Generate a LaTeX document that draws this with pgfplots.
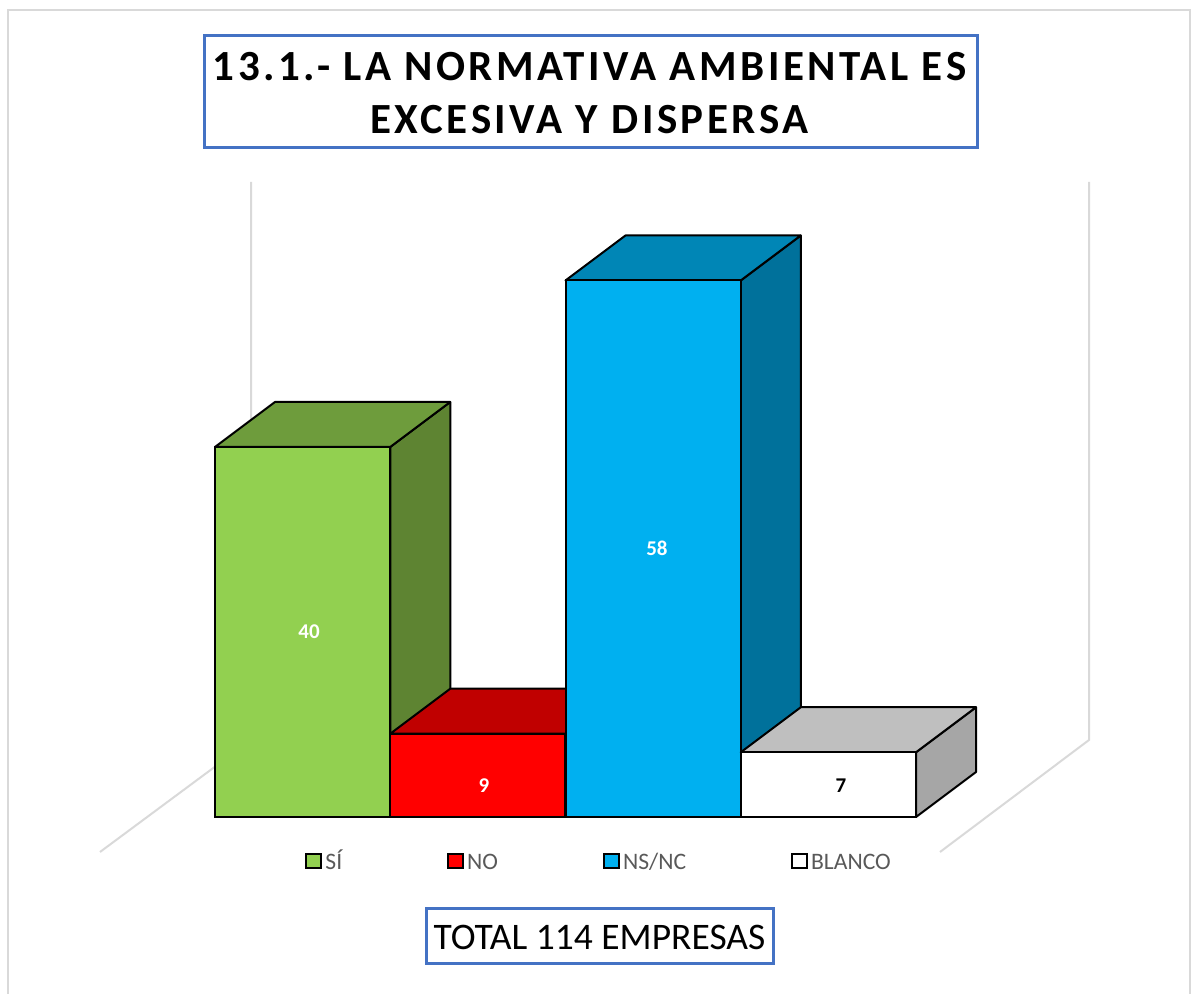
\documentclass[border=0pt]{standalone}
\usepackage{fontspec}
\setmainfont{Carlito}
\usepackage{pgfplots}
\pgfplotsset{compat=1.18}
\definecolor{verde}{HTML}{92D050}
\definecolor{verdetop}{HTML}{6E9C3C}
\definecolor{verdeside}{HTML}{5E8432}
\definecolor{rojo}{HTML}{FF0000}
\definecolor{rojotop}{HTML}{C00000}
\definecolor{azul}{HTML}{00B0F0}
\definecolor{azultop}{HTML}{0086B6}
\definecolor{azulside}{HTML}{00719B}
\definecolor{blancotop}{HTML}{BFBFBF}
\definecolor{blancoside}{HTML}{A6A6A6}
\definecolor{marco}{HTML}{D9D9D9}
\definecolor{caja}{HTML}{4472C4}
\definecolor{leyenda}{HTML}{595959}
\begin{document}
\begin{tikzpicture}
	\useasboundingbox (0,0) rectangle (596pt,497pt);
	% pixel coordinates of the reference, y downwards
	\begin{scope}[x=0.5pt,y=-0.5pt,shift={(0pt,497pt)}]
		\draw[marco,line width=1.3pt] (8,994) -- (8,10) -- (1190,10) -- (1190,994);
		\draw[marco,line width=1pt] (251,182) -- (251,740) -- (100,852);
		\draw[marco,line width=1pt] (1089,182) -- (1089,740) -- (940,852);
		\draw[caja,line width=1.5pt] (204,36) rectangle (977,148);
		\node[align=center,inner sep=0pt,font=\fontsize{21.5pt}{26.5pt}\selectfont\bfseries\addfontfeature{LetterSpace=8.2}]
			at (589.5,93) {13.1.- LA NORMATIVA AMBIENTAL ES\\EXCESIVA Y DISPERSA};
		\draw[caja,line width=1.5pt] (426,909) rectangle (773,964);
		\node[inner sep=0pt,font=\fontsize{18.75pt}{22pt}\selectfont] at (599.5,937) {TOTAL 114 EMPRESAS};
	\end{scope}
	\begin{axis}[
		at={(0pt,0pt)},anchor=south west,
		scale only axis,width=596pt,height=497pt,
		xmin=-1.7268,xmax=5.0749,ymin=-19.135,ymax=88.324,
		axis lines=none,clip=false,
		legend columns=4,
		legend image code/.code={\draw[#1,draw=black,line width=1pt] (0pt,-3.6pt) rectangle (7.5pt,3.6pt);},
		legend style={draw=none,fill=none,at={(0.2559,0.1340)},anchor=west,inner sep=0pt,
			font=\fontsize{11.8pt}{14pt}\selectfont,text=leyenda,
			nodes={inner sep=0pt,text=leyenda},
			/tikz/every odd column/.append style={column sep=1.5pt},
			/tikz/every even column/.append style={column sep=52.5pt}},
		every node near coord/.append style={anchor=center,font=\fontsize{10.5pt}{12pt}\selectfont\bfseries},
		]
		\addlegendimage{fill=verde}\addlegendentry{\strut SÍ}
		\addlegendimage{fill=rojo}\addlegendentry{\strut NO}
		\addlegendimage{fill=azul}\addlegendentry{\strut NS/NC}
		\addlegendimage{fill=white}\addlegendentry{\strut BLANCO}
		% SI = 40
		\addplot[forget plot,fill=verdeside,draw=black,line width=1pt,line join=round] coordinates {(0.5,0) (0.8424,4.865) (0.8424,44.865) (0.5,40)} -- cycle;
		\addplot[forget plot,fill=verdetop,draw=black,line width=1pt,line join=round] coordinates {(-0.5,40) (0.5,40) (0.8424,44.865) (-0.1576,44.865)} -- cycle;
		\addplot[forget plot,ybar,bar shift=0pt,bar width=87.6pt,fill=verde,draw=black,line width=1pt] coordinates {(0,40)};
		% NO = 9
		\addplot[forget plot,fill=rojotop,draw=black,line width=1pt,line join=round] coordinates {(0.5,9) (1.5,9) (1.8424,13.865) (0.8424,13.865)} -- cycle;
		\addplot[forget plot,ybar,bar shift=0pt,bar width=87.6pt,fill=rojo,draw=black,line width=1pt] coordinates {(1,9)};
		% NS/NC = 58
		\addplot[forget plot,fill=azulside,draw=black,line width=1pt,line join=round] coordinates {(2.5,0) (2.8424,4.865) (2.8424,62.865) (2.5,58)} -- cycle;
		\addplot[forget plot,fill=azultop,draw=black,line width=1pt,line join=round] coordinates {(1.5,58) (2.5,58) (2.8424,62.865) (1.8424,62.865)} -- cycle;
		\addplot[forget plot,ybar,bar shift=0pt,bar width=87.6pt,fill=azul,draw=black,line width=1pt] coordinates {(2,58)};
		% BLANCO = 7
		\addplot[forget plot,fill=blancoside,draw=black,line width=1pt,line join=round] coordinates {(3.5,0) (3.8424,4.865) (3.8424,11.865) (3.5,7)} -- cycle;
		\addplot[forget plot,fill=blancotop,draw=black,line width=1pt,line join=round] coordinates {(2.5,7) (3.5,7) (3.8424,11.865) (2.8424,11.865)} -- cycle;
		\addplot[forget plot,ybar,bar shift=0pt,bar width=87.6pt,fill=white,draw=black,line width=1pt] coordinates {(3,7)};
		% value labels
		\addplot[forget plot,draw=none,mark=none,white,point meta=explicit symbolic,nodes near coords]
			coordinates {(0.037,20.0)[40] (1.035,3.4)[9] (2.022,29.0)[58]};
		\addplot[forget plot,draw=none,mark=none,black,point meta=explicit symbolic,nodes near coords]
			coordinates {(3.072,3.4)[7]};
	\end{axis}
\end{tikzpicture}
\end{document}
